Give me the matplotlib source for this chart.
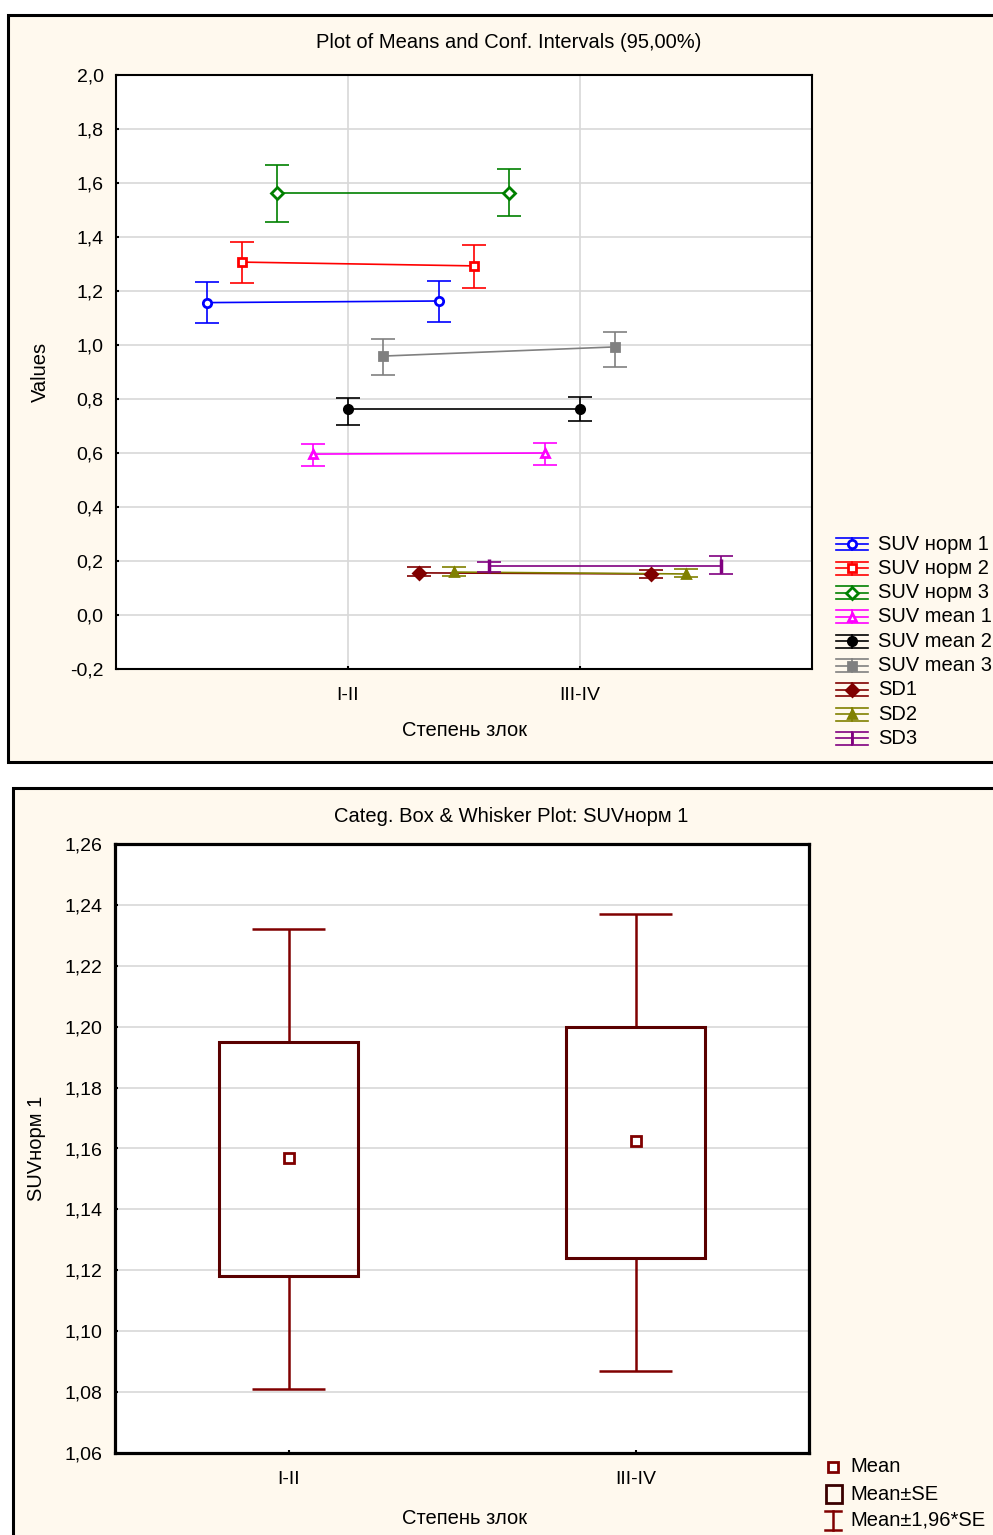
import matplotlib
matplotlib.use('Agg')
import matplotlib.pyplot as plt
import numpy as np
from matplotlib.lines import Line2D
from matplotlib.patches import Rectangle
from matplotlib.ticker import FuncFormatter, MultipleLocator

plt.rcParams['font.family'] = ['Liberation Sans', 'DejaVu Sans']

# ---- data: means plot (top) ----
categories = ['I-II', 'III-IV']
series_labels = ['SUV норм 1', 'SUV норм 2', 'SUV норм 3', 'SUV mean 1', 'SUV mean 2',
                 'SUV mean 3', 'SD1', 'SD2', 'SD3']
means_12 = [1.157, 1.307, 1.563, 0.596, 0.763, 0.959, 0.156, 0.159, 0.181]
means_34 = [1.163, 1.293, 1.563, 0.600, 0.763, 0.993, 0.152, 0.152, 0.181]
ci_low_12 = [1.081, 1.230, 1.456, 0.552, 0.704, 0.889, 0.144, 0.146, 0.159]
ci_high_12 = [1.232, 1.381, 1.667, 0.633, 0.804, 1.022, 0.177, 0.179, 0.198]
ci_low_34 = [1.087, 1.211, 1.478, 0.556, 0.719, 0.919, 0.137, 0.142, 0.151]
ci_high_34 = [1.237, 1.370, 1.652, 0.637, 0.807, 1.048, 0.167, 0.170, 0.220]

# ---- data: box & whisker plot (bottom) ----
box_mean = [1.157, 1.1625]
box_se_low = [1.118, 1.124]
box_se_high = [1.195, 1.200]
box_ci_low = [1.081, 1.087]
box_ci_high = [1.232, 1.237]

# styles
colors = ['#0000ff', '#ff0000', '#008000', '#ff00ff', '#000000', '#808080',
          '#800000', '#808000', '#800080']
markers = ['o', 's', 'D', '^', 'o', 's', 'D', '^', '|']
hollow = [True, True, True, True, False, False, False, False, False]
msizes = [6, 6, 6, 6, 6, 6, 6, 6, 10]

cream = '#fff9ee'
grid_c = '#d8d8d8'
box_c = '#800000'
FS = 14.5     # label / legend text
TFS = 14      # tick labels

fig = plt.figure(figsize=(9.93, 15.35), dpi=100)
fig.patch.set_facecolor('white')

# panel frames
fig.add_artist(Rectangle((8 / 993, 1 - 762 / 1535), 1.0, (762 - 15) / 1535,
                         transform=fig.transFigure, facecolor=cream, edgecolor='black',
                         linewidth=2.2, zorder=0))
fig.add_artist(Rectangle((13 / 993, -0.01), 1.0, 1 - 788 / 1535 + 0.01,
                         transform=fig.transFigure, facecolor=cream, edgecolor='black',
                         linewidth=2.2, zorder=0))


def fmt1(v, p):
    s = '%.1f' % v
    if s == '-0.0':
        s = '0.0'
    return s.replace('.', ',')


def fmt2(v, p):
    return ('%.2f' % v).replace('.', ',')


# ================= top: means and CI =================
ax1 = fig.add_axes([116 / 993, 1 - 669 / 1535, (812 - 116) / 993, (669 - 75) / 1535])
ax1.set_facecolor('white')
ax1.set_xlim(0, 3)
ax1.set_ylim(-0.2, 2.0)
ax1.yaxis.set_major_locator(MultipleLocator(0.2))
ax1.yaxis.set_major_formatter(FuncFormatter(fmt1))
ax1.set_xticks([1, 2])
ax1.set_xticklabels(categories)
ax1.grid(True, color=grid_c, linewidth=1.2)
ax1.set_axisbelow(True)
for s in ax1.spines.values():
    s.set_linewidth(1.5)
ax1.tick_params(direction='in', length=2, width=1.5, labelsize=TFS, pad=9)
ax1.tick_params(axis='x', pad=13)

cat_x = np.array([1, 2])
for i in range(len(series_labels)):
    xs = cat_x + (i - 4) * 0.152
    ys = np.array([means_12[i], means_34[i]])
    lo = ys - np.array([ci_low_12[i], ci_low_34[i]])
    hi = np.array([ci_high_12[i], ci_high_34[i]]) - ys
    mfc = 'white' if hollow[i] else colors[i]
    ax1.plot(xs, ys, color=colors[i], linewidth=1.2, zorder=3)
    ax1.errorbar(xs, ys, yerr=[lo, hi], fmt='none', ecolor=colors[i], elinewidth=1.2,
                 capsize=8.5, capthick=1.2, zorder=3)
    ax1.plot(xs, ys, linestyle='none', marker=markers[i], color=colors[i], mfc=mfc,
             mec=colors[i], mew=2 if markers[i] != '|' else 2.5, ms=msizes[i], zorder=4)

fig.text(509 / 993, 1 - 42 / 1535, 'Plot of Means and Conf. Intervals (95,00%)',
         ha='center', va='center', fontsize=FS)
fig.text(40 / 993, 1 - 372 / 1535, 'Values', rotation=90, ha='center', va='center',
         fontsize=FS)
fig.text(465 / 993, 1 - 730 / 1535, 'Степень злок', ha='center', va='center',
         fontsize=FS)

# legend drawn by hand to mimic the original key layout
for i, lab in enumerate(series_labels):
    yc = 1 - (544 + i * 24.3) / 1535
    x0, x1 = 836 / 993, 868 / 993
    xm = (x0 + x1) / 2
    dy = 6.5 / 1535
    for yy in (yc - dy, yc, yc + dy):
        fig.add_artist(Line2D([x0, x1], [yy, yy], color=colors[i], lw=1.2,
                              transform=fig.transFigure))
    fig.add_artist(Line2D([xm, xm], [yc - dy, yc + dy], color=colors[i], lw=1.2,
                          transform=fig.transFigure))
    mfc = 'white' if hollow[i] else colors[i]
    fig.add_artist(Line2D([xm], [yc], marker=markers[i], color=colors[i], mfc=mfc,
                          mec=colors[i], mew=2, ms=msizes[i] if i < 8 else 9,
                          transform=fig.transFigure))
    fig.text(878 / 993, yc, lab, ha='left', va='center', fontsize=FS)

# ================= bottom: box & whisker =================
ax2 = fig.add_axes([115 / 993, 1 - 1453 / 1535, (809 - 115) / 993, (1453 - 844) / 1535])
ax2.set_facecolor('white')
ax2.set_xlim(0.5, 2.5)
ax2.set_ylim(1.06, 1.26)
ax2.yaxis.set_major_locator(MultipleLocator(0.02))
ax2.yaxis.set_major_formatter(FuncFormatter(fmt2))
ax2.set_xticks([1, 2])
ax2.set_xticklabels(categories)
ax2.yaxis.grid(True, color=grid_c, linewidth=1.2)
ax2.set_axisbelow(True)
for s in ax2.spines.values():
    s.set_linewidth(2.3)
ax2.tick_params(direction='in', length=2, width=1.5, labelsize=TFS, pad=9)
ax2.tick_params(axis='x', pad=13)

bx = np.array([1, 2])
ax2.vlines(bx, box_ci_low, box_se_low, color=box_c, linewidth=1.8, zorder=2)
ax2.vlines(bx, box_se_high, box_ci_high, color=box_c, linewidth=1.8, zorder=2)
ax2.hlines(box_ci_low, bx - 0.105, bx + 0.105, color=box_c, linewidth=1.8, zorder=2)
ax2.hlines(box_ci_high, bx - 0.105, bx + 0.105, color=box_c, linewidth=1.8, zorder=2)
ax2.bar(bx, np.array(box_se_high) - np.array(box_se_low), bottom=box_se_low, width=0.4,
        fill=False, edgecolor='#5a0000', linewidth=2.2, zorder=3)
ax2.plot(bx, box_mean, linestyle='none', marker='s', ms=7, mfc='white', mec=box_c,
         mew=2, zorder=4)

fig.text(511 / 993, 1 - 817 / 1535, 'Categ. Box & Whisker Plot: SUVнорм 1',
         ha='center', va='center', fontsize=FS)
fig.text(37 / 993, 1 - 1148 / 1535, 'SUVнорм 1', rotation=90, ha='center', va='center',
         fontsize=FS)
fig.text(465 / 993, 1 - 1518 / 1535, 'Степень злок', ha='center', va='center',
         fontsize=FS)

# bottom key
kx = 833 / 993
fig.add_artist(Line2D([kx], [1 - 1467 / 1535], marker='s', ms=7, mfc='white', mec=box_c,
                      mew=2, transform=fig.transFigure))
fig.text(850 / 993, 1 - 1467 / 1535, 'Mean', ha='left', va='center', fontsize=FS)
fig.add_artist(Rectangle((826 / 993, 1 - 1503 / 1535), 16 / 993, 18 / 1535,
                         transform=fig.transFigure, fill=False, edgecolor='#3a0000',
                         linewidth=2))
fig.text(850 / 993, 1 - 1494 / 1535, 'Mean±SE', ha='left', va='center', fontsize=FS)
ib_top, ib_bot = 1 - 1511 / 1535, 1 - 1530 / 1535
fig.add_artist(Line2D([kx, kx], [ib_bot, ib_top], color=box_c, lw=1.8,
                      transform=fig.transFigure))
for yy in (ib_bot, ib_top):
    fig.add_artist(Line2D([kx - 8 / 993, kx + 8 / 993], [yy, yy], color=box_c, lw=1.8,
                          transform=fig.transFigure))
fig.text(850 / 993, 1 - 1520 / 1535, 'Mean±1,96*SE', ha='left', va='center', fontsize=FS)

fig.savefig('out.png', dpi=100)
